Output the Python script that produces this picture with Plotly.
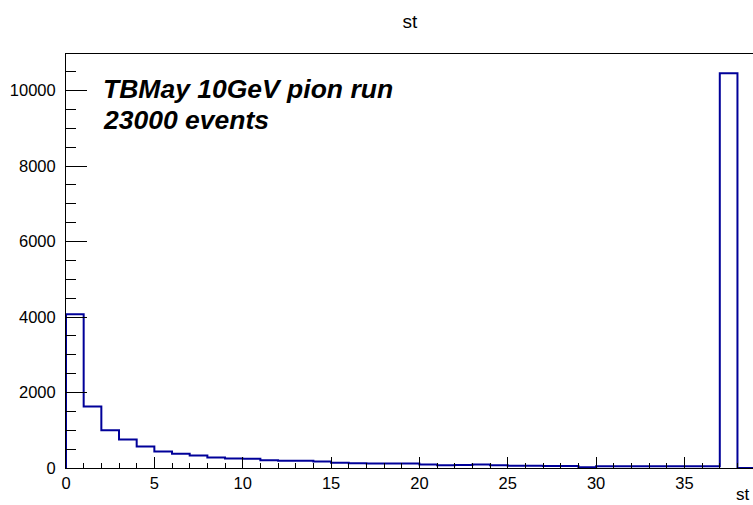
import plotly.graph_objects as go

# Histogram "st": 40 bins of width 1 from 0 to 40
bin_edges = list(range(0, 41))
counts = [4075, 1630, 1002, 755, 570, 437, 375, 331, 278, 250,
          243, 207, 190, 190, 172, 137, 128, 119, 119, 119,
          93, 75, 80, 93, 75, 58, 58, 53, 53, 22,
          45, 45, 45, 45, 45, 45, 45, 10460, 0, 0]

title_text = "st"
x_title = "st"
label_lines = ["TBMay 10GeV pion run", "23000 events"]
y_ticks = [0, 2000, 4000, 6000, 8000, 10000]
x_ticks = [0, 5, 10, 15, 20, 25, 30, 35]

# step outline (ROOT-style histogram)
xs = [bin_edges[0]] + bin_edges
ys = [0] + counts + [counts[-1]]

W, H = 753, 505
ML, MR, MT, MB = 66, 0, 54, 37
plot_w = W - ML - MR
plot_h = H - MT - MB
px_per_x = 17.67
px_per_y = 0.03775
x_max = plot_w / px_per_x
y_max = plot_h / px_per_y

font_family = "Liberation Sans, Arial, Helvetica, sans-serif"

fig = go.Figure()
fig.add_trace(go.Scatter(
    x=xs, y=ys, mode="lines", line=dict(shape="hv", color="#000099", width=2),
    hoverinfo="skip", showlegend=False,
))


def px_to_paper_x(px):
    return (px - ML) / plot_w


def px_to_paper_y(py):
    return (H - MB - py) / plot_h


fig.update_layout(
    width=W, height=H, autosize=False,
    margin=dict(l=ML, r=MR, t=MT, b=MB, pad=0),
    paper_bgcolor="white", plot_bgcolor="white",
    font=dict(family=font_family, color="black"),
    title=dict(text=title_text, x=410 / W, xanchor="center", y=1 - 21 / H, yanchor="middle",
               yref="container", xref="container", font=dict(size=19, color="black")),
    showlegend=False,
)

fig.update_xaxes(
    range=[0, x_max], showgrid=False, zeroline=False,
    showline=True, linecolor="black", linewidth=1, mirror=True,
    ticks="inside", ticklen=11, tickcolor="black", tickwidth=1,
    tickvals=x_ticks, ticktext=[str(v) for v in x_ticks],
    tickfont=dict(size=16.5, family=font_family, color="black"),
    minor=dict(ticks="inside", ticklen=5, dtick=1, tick0=0, tickcolor="black", showgrid=False),
)
fig.update_yaxes(
    range=[0, y_max], showgrid=False, zeroline=False,
    showline=True, linecolor="black", linewidth=1, mirror=False,
    ticks="inside", ticklen=21, tickcolor="black", tickwidth=1,
    tickvals=y_ticks, ticktext=[str(v) for v in y_ticks],
    tickfont=dict(size=16.5, family=font_family, color="black"),
    ticklabelstandoff=6,
    minor=dict(ticks="inside", ticklen=10, dtick=500, tick0=0, tickcolor="black", showgrid=False),
)

# text label lines
for i, (line, cy) in enumerate(zip(label_lines, [89.0, 120.0])):
    fig.add_annotation(
        text="<b><i>" + line + "</i></b>", showarrow=False,
        xref="paper", yref="paper", x=px_to_paper_x(101), y=px_to_paper_y(cy),
        xanchor="left", yanchor="middle",
        font=dict(size=26.5, family=font_family, color="black"),
    )

# x axis title (bottom right corner)
fig.add_annotation(
    text=x_title, showarrow=False, xref="paper", yref="paper",
    x=px_to_paper_x(752), y=px_to_paper_y(494), xanchor="right", yanchor="middle",
    font=dict(size=17, family=font_family, color="black"),
)

fig.write_html(
    "out.html",
    config={"displayModeBar": False},
    post_script="document.body.style.margin='0';document.body.style.overflow='hidden';",
)
